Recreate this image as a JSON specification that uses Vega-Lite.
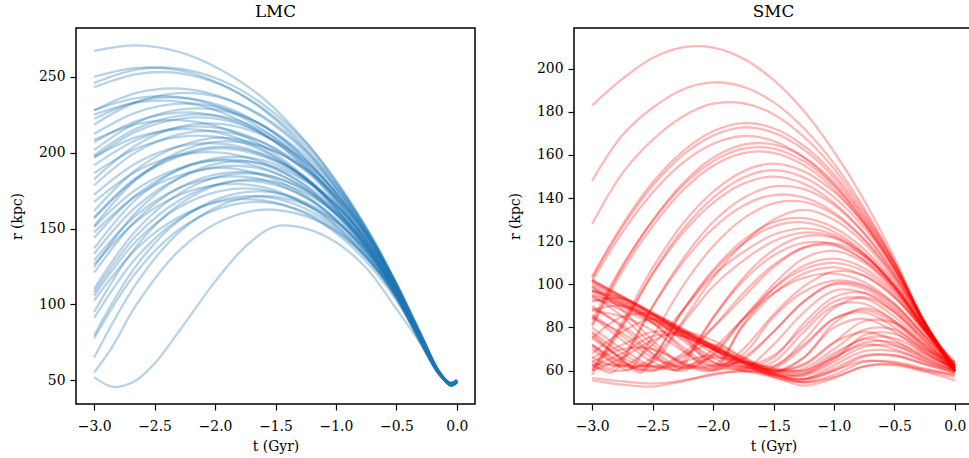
{
"$schema": "https://vega.github.io/schema/vega-lite/v6.json",
"background": "white",
"padding": {"left": 9, "top": 3, "right": 0, "bottom": 0},
"spacing": 99,
"bounds": "flush",
"config": {
"font": "DejaVu Serif",
"view": {"stroke": "#000000", "strokeWidth": 1.5},
"axis": {"grid": false, "domain": false, "labelFont": "DejaVu Serif", "titleFont": "DejaVu Serif", "labelFontSize": 13.9, "titleFontSize": 13.9, "titleFontWeight": "normal", "labelColor": "#000000", "titleColor": "#000000", "tickColor": "#000000", "tickSize": 6, "tickWidth": 1.2},
"axisY": {"titlePadding": 14, "labelPadding": 5},
"axisX": {"titlePadding": 7, "labelPadding": 9},
"title": {"font": "DejaVu Serif", "fontSize": 16.7, "fontWeight": "normal", "color": "#000000", "offset": 7, "anchor": "middle"}
},
"datasets": {
"L": [
{"k":1,"t":-3,"r":267.2},{"k":1,"t":-2.65,"r":270.8},{"k":1,"t":-2.3,"r":266.5},{"k":1,"t":-1.95,"r":254.6},{"k":1,"t":-1.6,"r":235.8},{"k":1,"t":-1.25,"r":207.2},{"k":1,"t":-0.95,"r":175.1},{"k":1,"t":-0.7,"r":142},{"k":1,"t":-0.5,"r":110.6},{"k":1,"t":-0.3,"r":76.3},{"k":1,"t":-0.15,"r":55.1},{"k":1,"t":-0.05,"r":47},{"k":1,"t":0,"r":49},
{"k":2,"t":-3,"r":250.1},{"k":2,"t":-2.65,"r":256},{"k":2,"t":-2.3,"r":254.5},{"k":2,"t":-1.95,"r":245.2},{"k":2,"t":-1.6,"r":228.2},{"k":2,"t":-1.25,"r":202.2},{"k":2,"t":-0.95,"r":171.7},{"k":2,"t":-0.7,"r":140.2},{"k":2,"t":-0.5,"r":110},{"k":2,"t":-0.3,"r":76.2},{"k":2,"t":-0.15,"r":55},{"k":2,"t":-0.05,"r":47.5},{"k":2,"t":0,"r":49.5},
{"k":3,"t":-3,"r":246.1},{"k":3,"t":-2.65,"r":254.9},{"k":3,"t":-2.3,"r":255.5},{"k":3,"t":-1.95,"r":247.8},{"k":3,"t":-1.6,"r":231.8},{"k":3,"t":-1.25,"r":206.8},{"k":3,"t":-0.95,"r":176.2},{"k":3,"t":-0.7,"r":144},{"k":3,"t":-0.5,"r":112.9},{"k":3,"t":-0.3,"r":77.9},{"k":3,"t":-0.15,"r":55.2},{"k":3,"t":-0.05,"r":46.5},{"k":3,"t":0,"r":48.5},
{"k":4,"t":-3,"r":243.2},{"k":4,"t":-2.65,"r":251.9},{"k":4,"t":-2.3,"r":252.6},{"k":4,"t":-1.95,"r":244.9},{"k":4,"t":-1.6,"r":229.2},{"k":4,"t":-1.25,"r":204.5},{"k":4,"t":-0.95,"r":174.3},{"k":4,"t":-0.7,"r":142.6},{"k":4,"t":-0.5,"r":112},{"k":4,"t":-0.3,"r":77.4},{"k":4,"t":-0.15,"r":55.1},{"k":4,"t":-0.05,"r":47},{"k":4,"t":0,"r":49},
{"k":5,"t":-3,"r":227.9},{"k":5,"t":-2.65,"r":239.5},{"k":5,"t":-2.3,"r":242.4},{"k":5,"t":-1.95,"r":236.9},{"k":5,"t":-1.6,"r":223},{"k":5,"t":-1.25,"r":200.1},{"k":5,"t":-0.95,"r":171.7},{"k":5,"t":-0.7,"r":141.5},{"k":5,"t":-0.5,"r":111.7},{"k":5,"t":-0.3,"r":78},{"k":5,"t":-0.15,"r":55},{"k":5,"t":-0.05,"r":48},{"k":5,"t":0,"r":50},
{"k":6,"t":-3,"r":218.6},{"k":6,"t":-2.65,"r":233.4},{"k":6,"t":-2.3,"r":239.4},{"k":6,"t":-1.95,"r":236.3},{"k":6,"t":-1.6,"r":224},{"k":6,"t":-1.25,"r":201.6},{"k":6,"t":-0.95,"r":174},{"k":6,"t":-0.7,"r":143.9},{"k":6,"t":-0.5,"r":113.8},{"k":6,"t":-0.3,"r":79.2},{"k":6,"t":-0.15,"r":55.3},{"k":6,"t":-0.05,"r":47},{"k":6,"t":0,"r":49},
{"k":7,"t":-3,"r":222.4},{"k":7,"t":-2.65,"r":233.6},{"k":7,"t":-2.3,"r":236.4},{"k":7,"t":-1.95,"r":231.1},{"k":7,"t":-1.6,"r":217.6},{"k":7,"t":-1.25,"r":195.4},{"k":7,"t":-0.95,"r":167.8},{"k":7,"t":-0.7,"r":138.6},{"k":7,"t":-0.5,"r":109.7},{"k":7,"t":-0.3,"r":77},{"k":7,"t":-0.15,"r":54.8},{"k":7,"t":-0.05,"r":47.5},{"k":7,"t":0,"r":49.5},
{"k":8,"t":-3,"r":212.4},{"k":8,"t":-2.65,"r":226.7},{"k":8,"t":-2.3,"r":232.4},{"k":8,"t":-1.95,"r":229.5},{"k":8,"t":-1.6,"r":217.6},{"k":8,"t":-1.25,"r":196},{"k":8,"t":-0.95,"r":169.4},{"k":8,"t":-0.7,"r":140.4},{"k":8,"t":-0.5,"r":111.4},{"k":8,"t":-0.3,"r":78.1},{"k":8,"t":-0.15,"r":55},{"k":8,"t":-0.05,"r":46.5},{"k":8,"t":0,"r":48.5},
{"k":9,"t":-3,"r":201.8},{"k":9,"t":-2.65,"r":219.8},{"k":9,"t":-2.3,"r":228.4},{"k":9,"t":-1.95,"r":228},{"k":9,"t":-1.6,"r":217.9},{"k":9,"t":-1.25,"r":197.8},{"k":9,"t":-0.95,"r":171.8},{"k":9,"t":-0.7,"r":142.9},{"k":9,"t":-0.5,"r":113.4},{"k":9,"t":-0.3,"r":79.6},{"k":9,"t":-0.15,"r":55.2},{"k":9,"t":-0.05,"r":47},{"k":9,"t":0,"r":49},
{"k":10,"t":-3,"r":207},{"k":10,"t":-2.65,"r":220.9},{"k":10,"t":-2.3,"r":226.5},{"k":10,"t":-1.95,"r":223.6},{"k":10,"t":-1.6,"r":212.1},{"k":10,"t":-1.25,"r":191.2},{"k":10,"t":-0.95,"r":165.4},{"k":10,"t":-0.7,"r":137.4},{"k":10,"t":-0.5,"r":109.3},{"k":10,"t":-0.3,"r":77.1},{"k":10,"t":-0.15,"r":54.7},{"k":10,"t":-0.05,"r":48},{"k":10,"t":0,"r":50},
{"k":11,"t":-3,"r":196.7},{"k":11,"t":-2.65,"r":214.1},{"k":11,"t":-2.3,"r":222.4},{"k":11,"t":-1.95,"r":222.1},{"k":11,"t":-1.6,"r":212.3},{"k":11,"t":-1.25,"r":192.8},{"k":11,"t":-0.95,"r":167.7},{"k":11,"t":-0.7,"r":139.7},{"k":11,"t":-0.5,"r":111.3},{"k":11,"t":-0.3,"r":78.5},{"k":11,"t":-0.15,"r":55},{"k":11,"t":-0.05,"r":47},{"k":11,"t":0,"r":49},
{"k":12,"t":-3,"r":182.5},{"k":12,"t":-2.65,"r":205.1},{"k":12,"t":-2.3,"r":217.1},{"k":12,"t":-1.95,"r":219},{"k":12,"t":-1.6,"r":211.4},{"k":12,"t":-1.25,"r":194.1},{"k":12,"t":-0.95,"r":169.1},{"k":12,"t":-0.7,"r":141.5},{"k":12,"t":-0.5,"r":113.3},{"k":12,"t":-0.3,"r":79.9},{"k":12,"t":-0.15,"r":55.1},{"k":12,"t":-0.05,"r":47.5},{"k":12,"t":0,"r":49.5},
{"k":13,"t":-3,"r":191.7},{"k":13,"t":-2.65,"r":208.4},{"k":13,"t":-2.3,"r":216.5},{"k":13,"t":-1.95,"r":216.1},{"k":13,"t":-1.6,"r":206.7},{"k":13,"t":-1.25,"r":187.9},{"k":13,"t":-0.95,"r":163.6},{"k":13,"t":-0.7,"r":136.6},{"k":13,"t":-0.5,"r":109.1},{"k":13,"t":-0.3,"r":77.4},{"k":13,"t":-0.15,"r":54.7},{"k":13,"t":-0.05,"r":46.5},{"k":13,"t":0,"r":48.5},
{"k":14,"t":-3,"r":178.5},{"k":14,"t":-2.65,"r":200.6},{"k":14,"t":-2.3,"r":212.1},{"k":14,"t":-1.95,"r":214},{"k":14,"t":-1.6,"r":206.6},{"k":14,"t":-1.25,"r":189.8},{"k":14,"t":-0.95,"r":165.6},{"k":14,"t":-0.7,"r":138.7},{"k":14,"t":-0.5,"r":111.3},{"k":14,"t":-0.3,"r":78.9},{"k":14,"t":-0.15,"r":54.9},{"k":14,"t":-0.05,"r":47},{"k":14,"t":0,"r":49},
{"k":15,"t":-3,"r":186.6},{"k":15,"t":-2.65,"r":202.8},{"k":15,"t":-2.3,"r":210.5},{"k":15,"t":-1.95,"r":210.2},{"k":15,"t":-1.6,"r":201.1},{"k":15,"t":-1.25,"r":183},{"k":15,"t":-0.95,"r":159.5},{"k":15,"t":-0.7,"r":133.5},{"k":15,"t":-0.5,"r":106.9},{"k":15,"t":-0.3,"r":76.4},{"k":15,"t":-0.15,"r":54.4},{"k":15,"t":-0.05,"r":48},{"k":15,"t":0,"r":50},
{"k":16,"t":-3,"r":161.6},{"k":16,"t":-2.65,"r":189},{"k":16,"t":-2.3,"r":204.3},{"k":16,"t":-1.95,"r":210},{"k":16,"t":-1.6,"r":204.3},{"k":16,"t":-1.25,"r":189},{"k":16,"t":-0.95,"r":166.3},{"k":16,"t":-0.7,"r":139.9},{"k":16,"t":-0.5,"r":112.9},{"k":16,"t":-0.3,"r":80.4},{"k":16,"t":-0.15,"r":55.6},{"k":16,"t":-0.05,"r":47},{"k":16,"t":0,"r":49},
{"k":17,"t":-3,"r":172.3},{"k":17,"t":-2.65,"r":193.2},{"k":17,"t":-2.3,"r":204.3},{"k":17,"t":-1.95,"r":206},{"k":17,"t":-1.6,"r":199},{"k":17,"t":-1.25,"r":183},{"k":17,"t":-0.95,"r":160},{"k":17,"t":-0.7,"r":134.4},{"k":17,"t":-0.5,"r":108.3},{"k":17,"t":-0.3,"r":77.4},{"k":17,"t":-0.15,"r":54.5},{"k":17,"t":-0.05,"r":47.5},{"k":17,"t":0,"r":49.5},
{"k":18,"t":-3,"r":157.4},{"k":18,"t":-2.65,"r":183.7},{"k":18,"t":-2.3,"r":198.5},{"k":18,"t":-1.95,"r":204},{"k":18,"t":-1.6,"r":198.5},{"k":18,"t":-1.25,"r":183.7},{"k":18,"t":-0.95,"r":161.9},{"k":18,"t":-0.7,"r":136.5},{"k":18,"t":-0.5,"r":110.4},{"k":18,"t":-0.3,"r":79.2},{"k":18,"t":-0.15,"r":55.3},{"k":18,"t":-0.05,"r":46.5},{"k":18,"t":0,"r":48.5},
{"k":19,"t":-3,"r":167.6},{"k":19,"t":-2.65,"r":187.8},{"k":19,"t":-2.3,"r":198.4},{"k":19,"t":-1.95,"r":200.1},{"k":19,"t":-1.6,"r":193.3},{"k":19,"t":-1.25,"r":177.9},{"k":19,"t":-0.95,"r":155.7},{"k":19,"t":-0.7,"r":131.1},{"k":19,"t":-0.5,"r":106},{"k":19,"t":-0.3,"r":76.3},{"k":19,"t":-0.15,"r":54.2},{"k":19,"t":-0.05,"r":47},{"k":19,"t":0,"r":49},
{"k":20,"t":-3,"r":137},{"k":20,"t":-2.65,"r":169.5},{"k":20,"t":-2.3,"r":188.9},{"k":20,"t":-1.95,"r":196.9},{"k":20,"t":-1.6,"r":195},{"k":20,"t":-1.25,"r":182},{"k":20,"t":-0.95,"r":161.9},{"k":20,"t":-0.7,"r":137},{"k":20,"t":-0.5,"r":111.5},{"k":20,"t":-0.3,"r":80.1},{"k":20,"t":-0.15,"r":55.8},{"k":20,"t":-0.05,"r":48},{"k":20,"t":0,"r":50},
{"k":21,"t":-3,"r":151},{"k":21,"t":-2.65,"r":175.9},{"k":21,"t":-2.3,"r":189.8},{"k":21,"t":-1.95,"r":195},{"k":21,"t":-1.6,"r":189.8},{"k":21,"t":-1.25,"r":175.9},{"k":21,"t":-0.95,"r":155.3},{"k":21,"t":-0.7,"r":131.4},{"k":21,"t":-0.5,"r":106.8},{"k":21,"t":-0.3,"r":77.3},{"k":21,"t":-0.15,"r":54.8},{"k":21,"t":-0.05,"r":47},{"k":21,"t":0,"r":49},
{"k":22,"t":-3,"r":133.4},{"k":22,"t":-2.65,"r":164.6},{"k":22,"t":-2.3,"r":183.3},{"k":22,"t":-1.95,"r":191},{"k":22,"t":-1.6,"r":189.1},{"k":22,"t":-1.25,"r":176.6},{"k":22,"t":-0.95,"r":157.3},{"k":22,"t":-0.7,"r":133.4},{"k":22,"t":-0.5,"r":108.9},{"k":22,"t":-0.3,"r":78.8},{"k":22,"t":-0.15,"r":55.4},{"k":22,"t":-0.05,"r":47.5},{"k":22,"t":0,"r":49.5},
{"k":23,"t":-3,"r":147.5},{"k":23,"t":-2.65,"r":171.6},{"k":23,"t":-2.3,"r":185},{"k":23,"t":-1.95,"r":190},{"k":23,"t":-1.6,"r":185},{"k":23,"t":-1.25,"r":171.6},{"k":23,"t":-0.95,"r":151.7},{"k":23,"t":-0.7,"r":128.5},{"k":23,"t":-0.5,"r":104.8},{"k":23,"t":-0.3,"r":76.3},{"k":23,"t":-0.15,"r":54.6},{"k":23,"t":-0.05,"r":46.5},{"k":23,"t":0,"r":48.5},
{"k":24,"t":-3,"r":110.3},{"k":24,"t":-2.65,"r":149.1},{"k":24,"t":-2.3,"r":172.9},{"k":24,"t":-1.95,"r":184.8},{"k":24,"t":-1.6,"r":185.5},{"k":24,"t":-1.25,"r":175.4},{"k":24,"t":-0.95,"r":157.2},{"k":24,"t":-0.7,"r":134.4},{"k":24,"t":-0.5,"r":110.3},{"k":24,"t":-0.3,"r":80},{"k":24,"t":-0.15,"r":56},{"k":24,"t":-0.05,"r":47},{"k":24,"t":0,"r":49},
{"k":25,"t":-3,"r":129.2},{"k":25,"t":-2.65,"r":158.9},{"k":25,"t":-2.3,"r":176.7},{"k":25,"t":-1.95,"r":184},{"k":25,"t":-1.6,"r":182.2},{"k":25,"t":-1.25,"r":170.4},{"k":25,"t":-0.95,"r":152},{"k":25,"t":-0.7,"r":129.2},{"k":25,"t":-0.5,"r":105.9},{"k":25,"t":-0.3,"r":77.2},{"k":25,"t":-0.15,"r":55},{"k":25,"t":-0.05,"r":48},{"k":25,"t":0,"r":50},
{"k":26,"t":-3,"r":108},{"k":26,"t":-2.65,"r":145.4},{"k":26,"t":-2.3,"r":168.4},{"k":26,"t":-1.95,"r":179.8},{"k":26,"t":-1.6,"r":180.5},{"k":26,"t":-1.25,"r":170.8},{"k":26,"t":-0.95,"r":153.2},{"k":26,"t":-0.7,"r":131.2},{"k":26,"t":-0.5,"r":108},{"k":26,"t":-0.3,"r":78.9},{"k":26,"t":-0.15,"r":55.6},{"k":26,"t":-0.05,"r":47},{"k":26,"t":0,"r":49},
{"k":27,"t":-3,"r":126.3},{"k":27,"t":-2.65,"r":154.9},{"k":27,"t":-2.3,"r":172},{"k":27,"t":-1.95,"r":179.1},{"k":27,"t":-1.6,"r":177.3},{"k":27,"t":-1.25,"r":165.9},{"k":27,"t":-0.95,"r":148.2},{"k":27,"t":-0.7,"r":126.3},{"k":27,"t":-0.5,"r":103.8},{"k":27,"t":-0.3,"r":76.1},{"k":27,"t":-0.15,"r":54.7},{"k":27,"t":-0.05,"r":47.5},{"k":27,"t":0,"r":49.5},
{"k":28,"t":-3,"r":105.8},{"k":28,"t":-2.65,"r":141.8},{"k":28,"t":-2.3,"r":163.9},{"k":28,"t":-1.95,"r":174.9},{"k":28,"t":-1.6,"r":175.6},{"k":28,"t":-1.25,"r":166.2},{"k":28,"t":-0.95,"r":149.3},{"k":28,"t":-0.7,"r":128.1},{"k":28,"t":-0.5,"r":105.8},{"k":28,"t":-0.3,"r":77.7},{"k":28,"t":-0.15,"r":55.3},{"k":28,"t":-0.05,"r":46.5},{"k":28,"t":0,"r":48.5},
{"k":29,"t":-3,"r":79.5},{"k":29,"t":-2.65,"r":125.7},{"k":29,"t":-2.3,"r":155.2},{"k":29,"t":-1.95,"r":170.4},{"k":29,"t":-1.6,"r":174.5},{"k":29,"t":-1.25,"r":167.3},{"k":29,"t":-0.95,"r":151.6},{"k":29,"t":-0.7,"r":130.8},{"k":29,"t":-0.5,"r":108.2},{"k":29,"t":-0.3,"r":79.5},{"k":29,"t":-0.15,"r":56},{"k":29,"t":-0.05,"r":47},{"k":29,"t":0,"r":49},
{"k":30,"t":-3,"r":64.9},{"k":30,"t":-2.65,"r":113.9},{"k":30,"t":-2.3,"r":147.4},{"k":30,"t":-1.95,"r":165.5},{"k":30,"t":-1.6,"r":171.5},{"k":30,"t":-1.25,"r":165.8},{"k":30,"t":-0.95,"r":151.3},{"k":30,"t":-0.7,"r":130.9},{"k":30,"t":-0.5,"r":108.8},{"k":30,"t":-0.3,"r":80.1},{"k":30,"t":-0.15,"r":56.3},{"k":30,"t":-0.05,"r":48},{"k":30,"t":0,"r":50},
{"k":31,"t":-3,"r":102.6},{"k":31,"t":-2.65,"r":136.7},{"k":31,"t":-2.3,"r":157.6},{"k":31,"t":-1.95,"r":168},{"k":31,"t":-1.6,"r":168.6},{"k":31,"t":-1.25,"r":159.8},{"k":31,"t":-0.95,"r":143.8},{"k":31,"t":-0.7,"r":123.8},{"k":31,"t":-0.5,"r":102.6},{"k":31,"t":-0.3,"r":76},{"k":31,"t":-0.15,"r":54.9},{"k":31,"t":-0.05,"r":47},{"k":31,"t":0,"r":49},
{"k":32,"t":-3,"r":77.7},{"k":32,"t":-2.65,"r":121.4},{"k":32,"t":-2.3,"r":149.2},{"k":32,"t":-1.95,"r":163.6},{"k":32,"t":-1.6,"r":167.5},{"k":32,"t":-1.25,"r":160.7},{"k":32,"t":-0.95,"r":145.9},{"k":32,"t":-0.7,"r":126.3},{"k":32,"t":-0.5,"r":104.8},{"k":32,"t":-0.3,"r":77.7},{"k":32,"t":-0.15,"r":55.5},{"k":32,"t":-0.05,"r":47.5},{"k":32,"t":0,"r":49.5},
{"k":33,"t":-3,"r":55},{"k":33,"t":-2.85,"r":72},{"k":33,"t":-2.65,"r":99.8},{"k":33,"t":-2.3,"r":135.3},{"k":33,"t":-1.95,"r":155},{"k":33,"t":-1.6,"r":162.5},{"k":33,"t":-1.25,"r":158.2},{"k":33,"t":-0.95,"r":145.6},{"k":33,"t":-0.7,"r":126.6},{"k":33,"t":-0.5,"r":106.2},{"k":33,"t":-0.3,"r":78.9},{"k":33,"t":-0.15,"r":56},{"k":33,"t":-0.05,"r":47},{"k":33,"t":0,"r":49},
{"k":34,"t":-3,"r":52},{"k":34,"t":-2.9,"r":47},{"k":34,"t":-2.83,"r":45.5},{"k":34,"t":-2.75,"r":46.5},{"k":34,"t":-2.65,"r":50},{"k":34,"t":-2.5,"r":61},{"k":34,"t":-2.3,"r":82},{"k":34,"t":-2,"r":115},{"k":34,"t":-1.75,"r":138},{"k":34,"t":-1.5,"r":151.5},{"k":34,"t":-1.25,"r":150},{"k":34,"t":-1,"r":141},{"k":34,"t":-0.75,"r":124},{"k":34,"t":-0.5,"r":97},{"k":34,"t":-0.3,"r":74},{"k":34,"t":-0.15,"r":55},{"k":34,"t":-0.05,"r":47},{"k":34,"t":0,"r":49},
{"k":35,"t":-3,"r":208.5},{"k":35,"t":-2.65,"r":218.9},{"k":35,"t":-2.3,"r":221.5},{"k":35,"t":-1.95,"r":216.6},{"k":35,"t":-1.6,"r":204.2},{"k":35,"t":-1.25,"r":183.7},{"k":35,"t":-0.95,"r":158.3},{"k":35,"t":-0.7,"r":131.4},{"k":35,"t":-0.5,"r":104.8},{"k":35,"t":-0.3,"r":74.7},{"k":35,"t":-0.15,"r":54.2},{"k":35,"t":-0.05,"r":47},{"k":35,"t":0,"r":49},
{"k":36,"t":-3,"r":225.2},{"k":36,"t":-2.65,"r":233.1},{"k":36,"t":-2.3,"r":233.7},{"k":36,"t":-1.95,"r":226.7},{"k":36,"t":-1.6,"r":212.4},{"k":36,"t":-1.25,"r":190.1},{"k":36,"t":-0.95,"r":162.6},{"k":36,"t":-0.7,"r":133.9},{"k":36,"t":-0.5,"r":106},{"k":36,"t":-0.3,"r":74.6},{"k":36,"t":-0.15,"r":54.3},{"k":36,"t":-0.05,"r":47.5},{"k":36,"t":0,"r":49.5},
{"k":37,"t":-3,"r":95},{"k":37,"t":-2.65,"r":138.4},{"k":37,"t":-2.3,"r":165.6},{"k":37,"t":-1.95,"r":179.5},{"k":37,"t":-1.6,"r":182},{"k":37,"t":-1.25,"r":173.3},{"k":37,"t":-0.95,"r":156.1},{"k":37,"t":-0.7,"r":134},{"k":37,"t":-0.5,"r":110.2},{"k":37,"t":-0.3,"r":80.3},{"k":37,"t":-0.15,"r":56.1},{"k":37,"t":-0.05,"r":48},{"k":37,"t":0,"r":50},
{"k":38,"t":-3,"r":91.1},{"k":38,"t":-2.65,"r":131},{"k":38,"t":-2.3,"r":156},{"k":38,"t":-1.95,"r":168.8},{"k":38,"t":-1.6,"r":171.1},{"k":38,"t":-1.25,"r":163.1},{"k":38,"t":-0.95,"r":147.3},{"k":38,"t":-0.7,"r":127},{"k":38,"t":-0.5,"r":105.1},{"k":38,"t":-0.3,"r":77.6},{"k":38,"t":-0.15,"r":55.4},{"k":38,"t":-0.05,"r":47},{"k":38,"t":0,"r":49},
{"k":39,"t":-3,"r":120.9},{"k":39,"t":-2.65,"r":155.6},{"k":39,"t":-2.3,"r":176.7},{"k":39,"t":-1.95,"r":186.4},{"k":39,"t":-1.6,"r":185.9},{"k":39,"t":-1.25,"r":174.7},{"k":39,"t":-0.95,"r":156.1},{"k":39,"t":-0.7,"r":133},{"k":39,"t":-0.5,"r":109},{"k":39,"t":-0.3,"r":79.1},{"k":39,"t":-0.15,"r":55.6},{"k":39,"t":-0.05,"r":46.5},{"k":39,"t":0,"r":48.5},
{"k":40,"t":-3,"r":124.6},{"k":40,"t":-2.65,"r":161},{"k":40,"t":-2.3,"r":183.2},{"k":40,"t":-1.95,"r":193.4},{"k":40,"t":-1.6,"r":192.8},{"k":40,"t":-1.25,"r":181.1},{"k":40,"t":-0.95,"r":161.6},{"k":40,"t":-0.7,"r":137.3},{"k":40,"t":-0.5,"r":112.1},{"k":40,"t":-0.3,"r":80.7},{"k":40,"t":-0.15,"r":56},{"k":40,"t":-0.05,"r":47},{"k":40,"t":0,"r":49},
{"k":41,"t":-3,"r":143.9},{"k":41,"t":-2.65,"r":172.3},{"k":41,"t":-2.3,"r":189},{"k":41,"t":-1.95,"r":195.6},{"k":41,"t":-1.6,"r":192},{"k":41,"t":-1.25,"r":178.6},{"k":41,"t":-0.95,"r":158.3},{"k":41,"t":-0.7,"r":133.9},{"k":41,"t":-0.5,"r":109},{"k":41,"t":-0.3,"r":78.6},{"k":41,"t":-0.15,"r":55.3},{"k":41,"t":-0.05,"r":47.5},{"k":41,"t":0,"r":49.5},
{"k":42,"t":-3,"r":151.7},{"k":42,"t":-2.65,"r":182.4},{"k":42,"t":-2.3,"r":200.4},{"k":42,"t":-1.95,"r":207.5},{"k":42,"t":-1.6,"r":203.7},{"k":42,"t":-1.25,"r":189.2},{"k":42,"t":-0.95,"r":167.3},{"k":42,"t":-0.7,"r":140.9},{"k":42,"t":-0.5,"r":114},{"k":42,"t":-0.3,"r":81.1},{"k":42,"t":-0.15,"r":56},{"k":42,"t":-0.05,"r":48},{"k":42,"t":0,"r":50},
{"k":43,"t":-3,"r":198.4},{"k":43,"t":-2.65,"r":216},{"k":43,"t":-2.3,"r":224.4},{"k":43,"t":-1.95,"r":224},{"k":43,"t":-1.6,"r":214.2},{"k":43,"t":-1.25,"r":194.5},{"k":43,"t":-0.95,"r":169.1},{"k":43,"t":-0.7,"r":140.8},{"k":43,"t":-0.5,"r":112},{"k":43,"t":-0.3,"r":78.9},{"k":43,"t":-0.15,"r":55.1},{"k":43,"t":-0.05,"r":47},{"k":43,"t":0,"r":49},
{"k":44,"t":-3,"r":197.2},{"k":44,"t":-2.65,"r":210.3},{"k":44,"t":-2.3,"r":215.5},{"k":44,"t":-1.95,"r":212.8},{"k":44,"t":-1.6,"r":202},{"k":44,"t":-1.25,"r":182.4},{"k":44,"t":-0.95,"r":158.2},{"k":44,"t":-0.7,"r":131.8},{"k":44,"t":-0.5,"r":105.5},{"k":44,"t":-0.3,"r":75.2},{"k":44,"t":-0.15,"r":54.3},{"k":44,"t":-0.05,"r":47.5},{"k":44,"t":0,"r":49.5},
{"k":45,"t":-3,"r":156.7},{"k":45,"t":-2.65,"r":182.9},{"k":45,"t":-2.3,"r":197.5},{"k":45,"t":-1.95,"r":203},{"k":45,"t":-1.6,"r":197.5},{"k":45,"t":-1.25,"r":182.9},{"k":45,"t":-0.95,"r":161.2},{"k":45,"t":-0.7,"r":135.9},{"k":45,"t":-0.5,"r":110},{"k":45,"t":-0.3,"r":79},{"k":45,"t":-0.15,"r":55.3},{"k":45,"t":-0.05,"r":46.5},{"k":45,"t":0,"r":48.5},
{"k":46,"t":-3,"r":228.1},{"k":46,"t":-2.65,"r":236.1},{"k":46,"t":-2.3,"r":236.7},{"k":46,"t":-1.95,"r":229.6},{"k":46,"t":-1.6,"r":215.1},{"k":46,"t":-1.25,"r":192.4},{"k":46,"t":-0.95,"r":164.5},{"k":46,"t":-0.7,"r":135.2},{"k":46,"t":-0.5,"r":107},{"k":46,"t":-0.3,"r":75.1},{"k":46,"t":-0.15,"r":54.4},{"k":46,"t":-0.05,"r":47},{"k":46,"t":0,"r":49}
],
"S": [
{"k":1,"t":-3,"r":183},{"k":1,"t":-2.75,"r":195.3},{"k":1,"t":-2.5,"r":205},{"k":1,"t":-2.25,"r":209.9},{"k":1,"t":-2,"r":209.8},{"k":1,"t":-1.75,"r":204.7},{"k":1,"t":-1.5,"r":194.8},{"k":1,"t":-1.25,"r":180.5},{"k":1,"t":-1,"r":161.5},{"k":1,"t":-0.75,"r":139},{"k":1,"t":-0.5,"r":112.2},{"k":1,"t":-0.25,"r":82},{"k":1,"t":0,"r":60},
{"k":2,"t":-3,"r":148},{"k":2,"t":-2.75,"r":169.1},{"k":2,"t":-2.5,"r":181.9},{"k":2,"t":-2.25,"r":190.4},{"k":2,"t":-2,"r":193.7},{"k":2,"t":-1.75,"r":191.6},{"k":2,"t":-1.5,"r":184.5},{"k":2,"t":-1.25,"r":172.4},{"k":2,"t":-1,"r":156.1},{"k":2,"t":-0.75,"r":135.3},{"k":2,"t":-0.5,"r":110.5},{"k":2,"t":-0.25,"r":82},{"k":2,"t":0,"r":60.5},
{"k":3,"t":-3,"r":128},{"k":3,"t":-2.75,"r":151.5},{"k":3,"t":-2.5,"r":167},{"k":3,"t":-2.25,"r":177.9},{"k":3,"t":-2,"r":183.8},{"k":3,"t":-1.75,"r":184},{"k":3,"t":-1.5,"r":178.9},{"k":3,"t":-1.25,"r":168.5},{"k":3,"t":-1,"r":153.6},{"k":3,"t":-0.75,"r":133.9},{"k":3,"t":-0.5,"r":110.1},{"k":3,"t":-0.25,"r":82.1},{"k":3,"t":0,"r":59.5},
{"k":4,"t":-3,"r":103.7},{"k":4,"t":-2.75,"r":127.6},{"k":4,"t":-2.5,"r":147.2},{"k":4,"t":-2.25,"r":161.7},{"k":4,"t":-2,"r":171},{"k":4,"t":-1.75,"r":174.8},{"k":4,"t":-1.5,"r":172.4},{"k":4,"t":-1.25,"r":164.3},{"k":4,"t":-1,"r":151.1},{"k":4,"t":-0.75,"r":132.6},{"k":4,"t":-0.5,"r":110},{"k":4,"t":-0.25,"r":82.5},{"k":4,"t":0,"r":61},
{"k":5,"t":-3,"r":103},{"k":5,"t":-2.75,"r":126.4},{"k":5,"t":-2.5,"r":145.7},{"k":5,"t":-2.25,"r":159.9},{"k":5,"t":-2,"r":169},{"k":5,"t":-1.75,"r":172.8},{"k":5,"t":-1.5,"r":170.4},{"k":5,"t":-1.25,"r":162.5},{"k":5,"t":-1,"r":149.5},{"k":5,"t":-0.75,"r":131.3},{"k":5,"t":-0.5,"r":109.2},{"k":5,"t":-0.25,"r":82.1},{"k":5,"t":0,"r":60},
{"k":6,"t":-3,"r":101.4},{"k":6,"t":-2.75,"r":124.1},{"k":6,"t":-2.5,"r":142.6},{"k":6,"t":-2.25,"r":156.4},{"k":6,"t":-2,"r":165.2},{"k":6,"t":-1.75,"r":168.8},{"k":6,"t":-1.5,"r":166.5},{"k":6,"t":-1.25,"r":158.9},{"k":6,"t":-1,"r":146.3},{"k":6,"t":-0.75,"r":128.8},{"k":6,"t":-0.5,"r":107.4},{"k":6,"t":-0.25,"r":81.4},{"k":6,"t":0,"r":60},
{"k":7,"t":-3,"r":81.3},{"k":7,"t":-2.75,"r":107.9},{"k":7,"t":-2.5,"r":129.6},{"k":7,"t":-2.25,"r":146.9},{"k":7,"t":-2,"r":158.7},{"k":7,"t":-1.75,"r":164.8},{"k":7,"t":-1.5,"r":164.9},{"k":7,"t":-1.25,"r":159},{"k":7,"t":-1,"r":147.5},{"k":7,"t":-0.75,"r":130.5},{"k":7,"t":-0.5,"r":109},{"k":7,"t":-0.25,"r":82.5},{"k":7,"t":0,"r":60},
{"k":8,"t":-3,"r":83.3},{"k":8,"t":-2.75,"r":108.7},{"k":8,"t":-2.5,"r":129.4},{"k":8,"t":-2.25,"r":145.8},{"k":8,"t":-2,"r":157},{"k":8,"t":-1.75,"r":162.9},{"k":8,"t":-1.5,"r":163},{"k":8,"t":-1.25,"r":157.1},{"k":8,"t":-1,"r":145.8},{"k":8,"t":-0.75,"r":129.2},{"k":8,"t":-0.5,"r":108},{"k":8,"t":-0.25,"r":82},{"k":8,"t":0,"r":60},
{"k":9,"t":-3,"r":80.5},{"k":9,"t":-2.75,"r":106.1},{"k":9,"t":-2.5,"r":127},{"k":9,"t":-2.25,"r":143.6},{"k":9,"t":-2,"r":155},{"k":9,"t":-1.75,"r":160.9},{"k":9,"t":-1.5,"r":161},{"k":9,"t":-1.25,"r":155.3},{"k":9,"t":-1,"r":144.2},{"k":9,"t":-0.75,"r":127.8},{"k":9,"t":-0.5,"r":107.1},{"k":9,"t":-0.25,"r":81.6},{"k":9,"t":0,"r":60},
{"k":10,"t":-3,"r":60},{"k":10,"t":-2.75,"r":82.5},{"k":10,"t":-2.5,"r":107.6},{"k":10,"t":-2.25,"r":128.1},{"k":10,"t":-2,"r":142.9},{"k":10,"t":-1.75,"r":152.4},{"k":10,"t":-1.5,"r":156},{"k":10,"t":-1.25,"r":152.4},{"k":10,"t":-1,"r":142.9},{"k":10,"t":-0.75,"r":128.1},{"k":10,"t":-0.5,"r":107.6},{"k":10,"t":-0.25,"r":82.5},{"k":10,"t":0,"r":60},
{"k":11,"t":-3,"r":58},{"k":11,"t":-2.75,"r":80.2},{"k":11,"t":-2.5,"r":105.1},{"k":11,"t":-2.25,"r":125.4},{"k":11,"t":-2,"r":140.1},{"k":11,"t":-1.75,"r":149.5},{"k":11,"t":-1.5,"r":153},{"k":11,"t":-1.25,"r":149.6},{"k":11,"t":-1,"r":140.5},{"k":11,"t":-0.75,"r":126.2},{"k":11,"t":-0.5,"r":106.6},{"k":11,"t":-0.25,"r":82.5},{"k":11,"t":0,"r":61},
{"k":12,"t":-3,"r":60},{"k":12,"t":-2.75,"r":81.1},{"k":12,"t":-2.5,"r":104.6},{"k":12,"t":-2.25,"r":123.8},{"k":12,"t":-2,"r":137.8},{"k":12,"t":-1.75,"r":146.7},{"k":12,"t":-1.5,"r":150},{"k":12,"t":-1.25,"r":146.7},{"k":12,"t":-1,"r":137.8},{"k":12,"t":-0.75,"r":123.8},{"k":12,"t":-0.5,"r":104.6},{"k":12,"t":-0.25,"r":81.1},{"k":12,"t":0,"r":60},
{"k":13,"t":-3,"r":63},{"k":13,"t":-2.84,"r":59},{"k":13,"t":-2.75,"r":64.1},{"k":13,"t":-2.5,"r":89.7},{"k":13,"t":-2.25,"r":111.7},{"k":13,"t":-2,"r":128.9},{"k":13,"t":-1.75,"r":140.1},{"k":13,"t":-1.5,"r":145.4},{"k":13,"t":-1.25,"r":144.2},{"k":13,"t":-1,"r":136.8},{"k":13,"t":-0.75,"r":123.5},{"k":13,"t":-0.5,"r":105},{"k":13,"t":-0.25,"r":81.4},{"k":13,"t":0,"r":60},
{"k":14,"t":-3,"r":64.5},{"k":14,"t":-2.84,"r":61},{"k":14,"t":-2.75,"r":65.8},{"k":14,"t":-2.5,"r":89.6},{"k":14,"t":-2.25,"r":110.1},{"k":14,"t":-2,"r":126},{"k":14,"t":-1.75,"r":136.5},{"k":14,"t":-1.5,"r":141.4},{"k":14,"t":-1.25,"r":140.3},{"k":14,"t":-1,"r":133.4},{"k":14,"t":-0.75,"r":121},{"k":14,"t":-0.5,"r":103.8},{"k":14,"t":-0.25,"r":81.9},{"k":14,"t":0,"r":62},
{"k":15,"t":-3,"r":71.4},{"k":15,"t":-2.75,"r":61},{"k":15,"t":-2.7,"r":60},{"k":15,"t":-2.5,"r":75.9},{"k":15,"t":-2.25,"r":99.2},{"k":15,"t":-2,"r":117.6},{"k":15,"t":-1.75,"r":130.5},{"k":15,"t":-1.5,"r":137.6},{"k":15,"t":-1.25,"r":138.2},{"k":15,"t":-1,"r":132.4},{"k":15,"t":-0.75,"r":120.6},{"k":15,"t":-0.5,"r":103.2},{"k":15,"t":-0.25,"r":80.8},{"k":15,"t":0,"r":60},
{"k":16,"t":-3,"r":77.4},{"k":16,"t":-2.75,"r":64.7},{"k":16,"t":-2.6,"r":59},{"k":16,"t":-2.5,"r":64.8},{"k":16,"t":-2.25,"r":87.9},{"k":16,"t":-2,"r":106.7},{"k":16,"t":-1.75,"r":120.5},{"k":16,"t":-1.5,"r":128.8},{"k":16,"t":-1.25,"r":130.7},{"k":16,"t":-1,"r":126.3},{"k":16,"t":-0.75,"r":116.2},{"k":16,"t":-0.5,"r":100.7},{"k":16,"t":-0.25,"r":80.3},{"k":16,"t":0,"r":61},
{"k":17,"t":-3,"r":76.1},{"k":17,"t":-2.75,"r":65},{"k":17,"t":-2.6,"r":60},{"k":17,"t":-2.5,"r":65.6},{"k":17,"t":-2.25,"r":87.7},{"k":17,"t":-2,"r":105.7},{"k":17,"t":-1.75,"r":118.9},{"k":17,"t":-1.5,"r":126.9},{"k":17,"t":-1.25,"r":128.7},{"k":17,"t":-1,"r":124.4},{"k":17,"t":-0.75,"r":114.4},{"k":17,"t":-0.5,"r":99.1},{"k":17,"t":-0.25,"r":79},{"k":17,"t":0,"r":60},
{"k":18,"t":-3,"r":84.5},{"k":18,"t":-2.75,"r":77.3},{"k":18,"t":-2.5,"r":67.4},{"k":18,"t":-2.3,"r":60},{"k":18,"t":-2.25,"r":62.1},{"k":18,"t":-2,"r":84.4},{"k":18,"t":-1.75,"r":103},{"k":18,"t":-1.5,"r":115.9},{"k":18,"t":-1.25,"r":122.2},{"k":18,"t":-1,"r":121.6},{"k":18,"t":-0.75,"r":113.7},{"k":18,"t":-0.5,"r":99.7},{"k":18,"t":-0.25,"r":80},{"k":18,"t":0,"r":60},
{"k":19,"t":-3,"r":89},{"k":19,"t":-2.75,"r":81},{"k":19,"t":-2.5,"r":70.1},{"k":19,"t":-2.3,"r":62},{"k":19,"t":-2.25,"r":64},{"k":19,"t":-2,"r":84.5},{"k":19,"t":-1.75,"r":101.6},{"k":19,"t":-1.5,"r":113.4},{"k":19,"t":-1.25,"r":119.2},{"k":19,"t":-1,"r":118.6},{"k":19,"t":-0.75,"r":111.3},{"k":19,"t":-0.5,"r":98.2},{"k":19,"t":-0.25,"r":79.7},{"k":19,"t":0,"r":63},
{"k":20,"t":-3,"r":94.7},{"k":20,"t":-2.75,"r":90.9},{"k":20,"t":-2.5,"r":82.4},{"k":20,"t":-2.25,"r":69.8},{"k":20,"t":-2,"r":60.6},{"k":20,"t":-1.75,"r":81.5},{"k":20,"t":-1.5,"r":98.2},{"k":20,"t":-1.25,"r":108.6},{"k":20,"t":-1,"r":111.9},{"k":20,"t":-0.75,"r":107.5},{"k":20,"t":-0.5,"r":96.2},{"k":20,"t":-0.25,"r":78.9},{"k":20,"t":0,"r":60},
{"k":21,"t":-3,"r":87.8},{"k":21,"t":-2.75,"r":85},{"k":21,"t":-2.5,"r":78.6},{"k":21,"t":-2.25,"r":69.1},{"k":21,"t":-2,"r":62.4},{"k":21,"t":-1.75,"r":80.9},{"k":21,"t":-1.5,"r":95.7},{"k":21,"t":-1.25,"r":105},{"k":21,"t":-1,"r":107.9},{"k":21,"t":-0.75,"r":104},{"k":21,"t":-0.5,"r":94.1},{"k":21,"t":-0.25,"r":78.7},{"k":21,"t":0,"r":62},
{"k":22,"t":-3,"r":97},{"k":22,"t":-2.75,"r":93.5},{"k":22,"t":-2.5,"r":86},{"k":22,"t":-2.25,"r":76},{"k":22,"t":-2,"r":62.9},{"k":22,"t":-1.75,"r":67.6},{"k":22,"t":-1.5,"r":85},{"k":22,"t":-1.25,"r":96.6},{"k":22,"t":-1,"r":101.7},{"k":22,"t":-0.75,"r":99.6},{"k":22,"t":-0.5,"r":90.9},{"k":22,"t":-0.25,"r":76.4},{"k":22,"t":0,"r":60},
{"k":23,"t":-3,"r":102},{"k":23,"t":-2.75,"r":94.3},{"k":23,"t":-2.5,"r":86.7},{"k":23,"t":-2.25,"r":79},{"k":23,"t":-2,"r":71.3},{"k":23,"t":-1.75,"r":63.6},{"k":23,"t":-1.5,"r":57},{"k":23,"t":-1.25,"r":55},{"k":23,"t":-1,"r":60},{"k":23,"t":-0.75,"r":64.5},{"k":23,"t":-0.5,"r":63.5},{"k":23,"t":-0.25,"r":60.5},{"k":23,"t":0,"r":58},
{"k":24,"t":-3,"r":100},{"k":24,"t":-2.75,"r":93},{"k":24,"t":-2.5,"r":85.5},{"k":24,"t":-2.25,"r":78},{"k":24,"t":-2,"r":71},{"k":24,"t":-1.75,"r":64},{"k":24,"t":-1.5,"r":58.5},{"k":24,"t":-1.25,"r":56},{"k":24,"t":-1,"r":61},{"k":24,"t":-0.75,"r":67},{"k":24,"t":-0.5,"r":67},{"k":24,"t":-0.25,"r":63},{"k":24,"t":0,"r":59},
{"k":25,"t":-3,"r":98},{"k":25,"t":-2.75,"r":91},{"k":25,"t":-2.5,"r":84},{"k":25,"t":-2.25,"r":77.5},{"k":25,"t":-2,"r":70.5},{"k":25,"t":-1.75,"r":64},{"k":25,"t":-1.5,"r":59},{"k":25,"t":-1.25,"r":57.5},{"k":25,"t":-1,"r":64},{"k":25,"t":-0.75,"r":71},{"k":25,"t":-0.5,"r":71.5},{"k":25,"t":-0.25,"r":66},{"k":25,"t":0,"r":60},
{"k":26,"t":-3,"r":101},{"k":26,"t":-2.75,"r":93.5},{"k":26,"t":-2.5,"r":86},{"k":26,"t":-2.25,"r":78.5},{"k":26,"t":-2,"r":71},{"k":26,"t":-1.75,"r":64},{"k":26,"t":-1.5,"r":59.5},{"k":26,"t":-1.25,"r":59},{"k":26,"t":-1,"r":67},{"k":26,"t":-0.75,"r":75},{"k":26,"t":-0.5,"r":75},{"k":26,"t":-0.25,"r":68},{"k":26,"t":0,"r":61},
{"k":27,"t":-3,"r":96},{"k":27,"t":-2.75,"r":89.5},{"k":27,"t":-2.5,"r":83},{"k":27,"t":-2.25,"r":76.5},{"k":27,"t":-2,"r":70},{"k":27,"t":-1.75,"r":64.5},{"k":27,"t":-1.5,"r":60},{"k":27,"t":-1.25,"r":61},{"k":27,"t":-1,"r":70},{"k":27,"t":-0.75,"r":79},{"k":27,"t":-0.5,"r":79},{"k":27,"t":-0.25,"r":70},{"k":27,"t":0,"r":64},
{"k":28,"t":-3,"r":99},{"k":28,"t":-2.75,"r":92},{"k":28,"t":-2.5,"r":85},{"k":28,"t":-2.25,"r":78},{"k":28,"t":-2,"r":71.5},{"k":28,"t":-1.75,"r":65},{"k":28,"t":-1.5,"r":60.5},{"k":28,"t":-1.25,"r":62.5},{"k":28,"t":-1,"r":73},{"k":28,"t":-0.75,"r":83},{"k":28,"t":-0.5,"r":82},{"k":28,"t":-0.25,"r":72},{"k":28,"t":0,"r":62},
{"k":29,"t":-3,"r":55.5},{"k":29,"t":-2.75,"r":53.5},{"k":29,"t":-2.5,"r":52.6},{"k":29,"t":-2.25,"r":55},{"k":29,"t":-2,"r":58.5},{"k":29,"t":-1.75,"r":59.5},{"k":29,"t":-1.5,"r":57},{"k":29,"t":-1.25,"r":53},{"k":29,"t":-1,"r":56.5},{"k":29,"t":-0.75,"r":62},{"k":29,"t":-0.5,"r":62.5},{"k":29,"t":-0.25,"r":59.5},{"k":29,"t":0,"r":55.5},
{"k":30,"t":-3,"r":56.5},{"k":30,"t":-2.75,"r":55},{"k":30,"t":-2.5,"r":54},{"k":30,"t":-2.25,"r":55.5},{"k":30,"t":-2,"r":58},{"k":30,"t":-1.75,"r":60},{"k":30,"t":-1.5,"r":58.5},{"k":30,"t":-1.25,"r":54.5},{"k":30,"t":-1,"r":58},{"k":30,"t":-0.75,"r":64},{"k":30,"t":-0.5,"r":64},{"k":30,"t":-0.25,"r":61},{"k":30,"t":0,"r":58},
{"k":31,"t":-3,"r":63},{"k":31,"t":-2.75,"r":62.5},{"k":31,"t":-2.5,"r":62},{"k":31,"t":-2.25,"r":61.5},{"k":31,"t":-2,"r":61},{"k":31,"t":-1.75,"r":60},{"k":31,"t":-1.5,"r":58},{"k":31,"t":-1.25,"r":56},{"k":31,"t":-1,"r":60},{"k":31,"t":-0.75,"r":66.5},{"k":31,"t":-0.5,"r":67},{"k":31,"t":-0.25,"r":63},{"k":31,"t":0,"r":59},
{"k":32,"t":-3,"r":92},{"k":32,"t":-2.75,"r":93.5},{"k":32,"t":-2.5,"r":86},{"k":32,"t":-2.25,"r":77},{"k":32,"t":-2,"r":64},{"k":32,"t":-1.75,"r":61},{"k":32,"t":-1.5,"r":72},{"k":32,"t":-1.25,"r":87},{"k":32,"t":-1,"r":97},{"k":32,"t":-0.75,"r":96},{"k":32,"t":-0.5,"r":87},{"k":32,"t":-0.25,"r":74},{"k":32,"t":0,"r":60},
{"k":33,"t":-3,"r":75},{"k":33,"t":-2.75,"r":85},{"k":33,"t":-2.5,"r":86},{"k":33,"t":-2.25,"r":78},{"k":33,"t":-2,"r":70},{"k":33,"t":-1.75,"r":61},{"k":33,"t":-1.5,"r":64},{"k":33,"t":-1.25,"r":78},{"k":33,"t":-1,"r":90},{"k":33,"t":-0.75,"r":91},{"k":33,"t":-0.5,"r":83},{"k":33,"t":-0.25,"r":71},{"k":33,"t":0,"r":60},
{"k":34,"t":-3,"r":68},{"k":34,"t":-2.75,"r":78},{"k":34,"t":-2.5,"r":84},{"k":34,"t":-2.25,"r":78},{"k":34,"t":-2,"r":70},{"k":34,"t":-1.75,"r":62},{"k":34,"t":-1.5,"r":61},{"k":34,"t":-1.25,"r":71},{"k":34,"t":-1,"r":84},{"k":34,"t":-0.75,"r":87},{"k":34,"t":-0.5,"r":80},{"k":34,"t":-0.25,"r":69},{"k":34,"t":0,"r":61},
{"k":35,"t":-3,"r":62},{"k":35,"t":-2.75,"r":68},{"k":35,"t":-2.5,"r":76},{"k":35,"t":-2.25,"r":76},{"k":35,"t":-2,"r":70},{"k":35,"t":-1.75,"r":63},{"k":35,"t":-1.5,"r":59},{"k":35,"t":-1.25,"r":66},{"k":35,"t":-1,"r":80},{"k":35,"t":-0.75,"r":84},{"k":35,"t":-0.5,"r":78},{"k":35,"t":-0.25,"r":68},{"k":35,"t":0,"r":61},
{"k":36,"t":-3,"r":86},{"k":36,"t":-2.75,"r":76},{"k":36,"t":-2.5,"r":66},{"k":36,"t":-2.25,"r":62},{"k":36,"t":-2,"r":66},{"k":36,"t":-1.75,"r":64},{"k":36,"t":-1.5,"r":60},{"k":36,"t":-1.25,"r":63},{"k":36,"t":-1,"r":73},{"k":36,"t":-0.75,"r":78},{"k":36,"t":-0.5,"r":74},{"k":36,"t":-0.25,"r":66},{"k":36,"t":0,"r":60},
{"k":37,"t":-3,"r":95},{"k":37,"t":-2.75,"r":85},{"k":37,"t":-2.5,"r":72},{"k":37,"t":-2.25,"r":63},{"k":37,"t":-2,"r":62},{"k":37,"t":-1.75,"r":64},{"k":37,"t":-1.5,"r":61},{"k":37,"t":-1.25,"r":60},{"k":37,"t":-1,"r":68},{"k":37,"t":-0.75,"r":74.5},{"k":37,"t":-0.5,"r":72},{"k":37,"t":-0.25,"r":65},{"k":37,"t":0,"r":60},
{"k":38,"t":-3,"r":72},{"k":38,"t":-2.75,"r":64},{"k":38,"t":-2.5,"r":60},{"k":38,"t":-2.25,"r":64},{"k":38,"t":-2,"r":67},{"k":38,"t":-1.75,"r":62},{"k":38,"t":-1.5,"r":58},{"k":38,"t":-1.25,"r":58},{"k":38,"t":-1,"r":66},{"k":38,"t":-0.75,"r":72},{"k":38,"t":-0.5,"r":70},{"k":38,"t":-0.25,"r":64},{"k":38,"t":0,"r":60},
{"k":39,"t":-3,"r":80},{"k":39,"t":-2.75,"r":70},{"k":39,"t":-2.5,"r":62},{"k":39,"t":-2.25,"r":61},{"k":39,"t":-2,"r":70},{"k":39,"t":-1.75,"r":84},{"k":39,"t":-1.5,"r":96},{"k":39,"t":-1.25,"r":103},{"k":39,"t":-1,"r":105},{"k":39,"t":-0.75,"r":101},{"k":39,"t":-0.5,"r":91},{"k":39,"t":-0.25,"r":76},{"k":39,"t":0,"r":63},
{"k":40,"t":-3,"r":90},{"k":40,"t":-2.75,"r":80},{"k":40,"t":-2.5,"r":68},{"k":40,"t":-2.25,"r":61},{"k":40,"t":-2,"r":67},{"k":40,"t":-1.75,"r":84},{"k":40,"t":-1.5,"r":100},{"k":40,"t":-1.25,"r":112},{"k":40,"t":-1,"r":115.5},{"k":40,"t":-0.75,"r":110},{"k":40,"t":-0.5,"r":97},{"k":40,"t":-0.25,"r":79},{"k":40,"t":0,"r":64},
{"k":41,"t":-3,"r":72},{"k":41,"t":-2.75,"r":63},{"k":41,"t":-2.5,"r":60},{"k":41,"t":-2.25,"r":67},{"k":41,"t":-2,"r":72},{"k":41,"t":-1.75,"r":66},{"k":41,"t":-1.5,"r":62},{"k":41,"t":-1.25,"r":74},{"k":41,"t":-1,"r":89},{"k":41,"t":-0.75,"r":94},{"k":41,"t":-0.5,"r":87},{"k":41,"t":-0.25,"r":73},{"k":41,"t":0,"r":61},
{"k":42,"t":-3,"r":70},{"k":42,"t":-2.75,"r":62},{"k":42,"t":-2.5,"r":64},{"k":42,"t":-2.25,"r":83},{"k":42,"t":-2,"r":103},{"k":42,"t":-1.75,"r":119},{"k":42,"t":-1.5,"r":130},{"k":42,"t":-1.25,"r":134.5},{"k":42,"t":-1,"r":130},{"k":42,"t":-0.75,"r":119},{"k":42,"t":-0.5,"r":102},{"k":42,"t":-0.25,"r":80},{"k":42,"t":0,"r":60},
{"k":43,"t":-3,"r":66},{"k":43,"t":-2.75,"r":62},{"k":43,"t":-2.5,"r":72},{"k":43,"t":-2.25,"r":88},{"k":43,"t":-2,"r":104},{"k":43,"t":-1.75,"r":115},{"k":43,"t":-1.5,"r":123},{"k":43,"t":-1.25,"r":126},{"k":43,"t":-1,"r":123},{"k":43,"t":-0.75,"r":114},{"k":43,"t":-0.5,"r":99},{"k":43,"t":-0.25,"r":79},{"k":43,"t":0,"r":62},
{"k":44,"t":-3,"r":101.5},{"k":44,"t":-2.75,"r":94},{"k":44,"t":-2.5,"r":86.5},{"k":44,"t":-2.25,"r":79},{"k":44,"t":-2,"r":71.5},{"k":44,"t":-1.75,"r":64.5},{"k":44,"t":-1.5,"r":58},{"k":44,"t":-1.25,"r":54.5},{"k":44,"t":-1,"r":57},{"k":44,"t":-0.75,"r":62},{"k":44,"t":-0.5,"r":63},{"k":44,"t":-0.25,"r":60},{"k":44,"t":0,"r":57},
{"k":45,"t":-3,"r":97},{"k":45,"t":-2.75,"r":90.5},{"k":45,"t":-2.5,"r":84},{"k":45,"t":-2.25,"r":77},{"k":45,"t":-2,"r":70},{"k":45,"t":-1.75,"r":63},{"k":45,"t":-1.5,"r":57.5},{"k":45,"t":-1.25,"r":56},{"k":45,"t":-1,"r":62.5},{"k":45,"t":-0.75,"r":69},{"k":45,"t":-0.5,"r":69},{"k":45,"t":-0.25,"r":64.5},{"k":45,"t":0,"r":59},
{"k":46,"t":-3,"r":102},{"k":46,"t":-2.75,"r":94.5},{"k":46,"t":-2.5,"r":87},{"k":46,"t":-2.25,"r":79.5},{"k":46,"t":-2,"r":72},{"k":46,"t":-1.75,"r":65},{"k":46,"t":-1.5,"r":60},{"k":46,"t":-1.25,"r":60},{"k":46,"t":-1,"r":66},{"k":46,"t":-0.75,"r":73},{"k":46,"t":-0.5,"r":73},{"k":46,"t":-0.25,"r":67},{"k":46,"t":0,"r":61},
{"k":47,"t":-3,"r":94},{"k":47,"t":-2.75,"r":88},{"k":47,"t":-2.5,"r":82},{"k":47,"t":-2.25,"r":76},{"k":47,"t":-2,"r":69.5},{"k":47,"t":-1.75,"r":63.5},{"k":47,"t":-1.5,"r":59},{"k":47,"t":-1.25,"r":58.5},{"k":47,"t":-1,"r":65},{"k":47,"t":-0.75,"r":76.5},{"k":47,"t":-0.5,"r":77},{"k":47,"t":-0.25,"r":69},{"k":47,"t":0,"r":60},
{"k":48,"t":-3,"r":88},{"k":48,"t":-2.75,"r":90},{"k":48,"t":-2.5,"r":84},{"k":48,"t":-2.25,"r":74},{"k":48,"t":-2,"r":64},{"k":48,"t":-1.75,"r":62},{"k":48,"t":-1.5,"r":67},{"k":48,"t":-1.25,"r":80},{"k":48,"t":-1,"r":92},{"k":48,"t":-0.75,"r":93.5},{"k":48,"t":-0.5,"r":85},{"k":48,"t":-0.25,"r":72},{"k":48,"t":0,"r":60},
{"k":49,"t":-3,"r":60},{"k":49,"t":-2.75,"r":66},{"k":49,"t":-2.5,"r":74},{"k":49,"t":-2.25,"r":78},{"k":49,"t":-2,"r":74},{"k":49,"t":-1.75,"r":66},{"k":49,"t":-1.5,"r":60},{"k":49,"t":-1.25,"r":66},{"k":49,"t":-1,"r":82},{"k":49,"t":-0.75,"r":89},{"k":49,"t":-0.5,"r":83},{"k":49,"t":-0.25,"r":71},{"k":49,"t":0,"r":61},
{"k":50,"t":-3,"r":78},{"k":50,"t":-2.75,"r":68},{"k":50,"t":-2.5,"r":62},{"k":50,"t":-2.25,"r":68},{"k":50,"t":-2,"r":80},{"k":50,"t":-1.75,"r":94},{"k":50,"t":-1.5,"r":108},{"k":50,"t":-1.25,"r":117},{"k":50,"t":-1,"r":119},{"k":50,"t":-0.75,"r":113},{"k":50,"t":-0.5,"r":99},{"k":50,"t":-0.25,"r":80},{"k":50,"t":0,"r":62},
{"k":51,"t":-3,"r":99},{"k":51,"t":-2.75,"r":88},{"k":51,"t":-2.5,"r":74},{"k":51,"t":-2.25,"r":63},{"k":51,"t":-2,"r":60},{"k":51,"t":-1.75,"r":70},{"k":51,"t":-1.5,"r":86},{"k":51,"t":-1.25,"r":99},{"k":51,"t":-1,"r":106},{"k":51,"t":-0.75,"r":104},{"k":51,"t":-0.5,"r":94},{"k":51,"t":-0.25,"r":78},{"k":51,"t":0,"r":61},
{"k":52,"t":-3,"r":64},{"k":52,"t":-2.75,"r":70},{"k":52,"t":-2.5,"r":70},{"k":52,"t":-2.25,"r":64},{"k":52,"t":-2,"r":60},{"k":52,"t":-1.75,"r":66},{"k":52,"t":-1.5,"r":78},{"k":52,"t":-1.25,"r":92},{"k":52,"t":-1,"r":100},{"k":52,"t":-0.75,"r":98},{"k":52,"t":-0.5,"r":89},{"k":52,"t":-0.25,"r":75},{"k":52,"t":0,"r":61},
{"k":53,"t":-3,"r":75},{"k":53,"t":-2.75,"r":66},{"k":53,"t":-2.5,"r":61},{"k":53,"t":-2.25,"r":66},{"k":53,"t":-2,"r":80},{"k":53,"t":-1.75,"r":96},{"k":53,"t":-1.5,"r":109},{"k":53,"t":-1.25,"r":117},{"k":53,"t":-1,"r":118},{"k":53,"t":-0.75,"r":111},{"k":53,"t":-0.5,"r":98},{"k":53,"t":-0.25,"r":79},{"k":53,"t":0,"r":61},
{"k":54,"t":-3,"r":85},{"k":54,"t":-2.75,"r":74},{"k":54,"t":-2.5,"r":64},{"k":54,"t":-2.25,"r":60},{"k":54,"t":-2,"r":68},{"k":54,"t":-1.75,"r":84},{"k":54,"t":-1.5,"r":98},{"k":54,"t":-1.25,"r":107},{"k":54,"t":-1,"r":110},{"k":54,"t":-0.75,"r":106},{"k":54,"t":-0.5,"r":95},{"k":54,"t":-0.25,"r":78},{"k":54,"t":0,"r":62},
{"k":55,"t":-3,"r":93},{"k":55,"t":-2.75,"r":90},{"k":55,"t":-2.5,"r":82},{"k":55,"t":-2.25,"r":71},{"k":55,"t":-2,"r":62},{"k":55,"t":-1.75,"r":65},{"k":55,"t":-1.5,"r":78},{"k":55,"t":-1.25,"r":92},{"k":55,"t":-1,"r":100.5},{"k":55,"t":-0.75,"r":99},{"k":55,"t":-0.5,"r":90},{"k":55,"t":-0.25,"r":76},{"k":55,"t":0,"r":61},
{"k":56,"t":-3,"r":66},{"k":56,"t":-2.75,"r":72},{"k":56,"t":-2.5,"r":78},{"k":56,"t":-2.25,"r":76},{"k":56,"t":-2,"r":68},{"k":56,"t":-1.75,"r":61},{"k":56,"t":-1.5,"r":66},{"k":56,"t":-1.25,"r":82},{"k":56,"t":-1,"r":94},{"k":56,"t":-0.75,"r":96},{"k":56,"t":-0.5,"r":88},{"k":56,"t":-0.25,"r":74},{"k":56,"t":0,"r":60},
{"k":57,"t":-3,"r":97},{"k":57,"t":-2.75,"r":92},{"k":57,"t":-2.5,"r":84},{"k":57,"t":-2.25,"r":75},{"k":57,"t":-2,"r":66},{"k":57,"t":-1.75,"r":60},{"k":57,"t":-1.5,"r":62},{"k":57,"t":-1.25,"r":72},{"k":57,"t":-1,"r":84},{"k":57,"t":-0.75,"r":88},{"k":57,"t":-0.5,"r":82},{"k":57,"t":-0.25,"r":70},{"k":57,"t":0,"r":62},
{"k":58,"t":-3,"r":62},{"k":58,"t":-2.75,"r":60},{"k":58,"t":-2.5,"r":66},{"k":58,"t":-2.25,"r":82},{"k":58,"t":-2,"r":99},{"k":58,"t":-1.75,"r":111},{"k":58,"t":-1.5,"r":120},{"k":58,"t":-1.25,"r":124},{"k":58,"t":-1,"r":122},{"k":58,"t":-0.75,"r":113},{"k":58,"t":-0.5,"r":99},{"k":58,"t":-0.25,"r":80},{"k":58,"t":0,"r":63}
]
},
"hconcat": [
{
"title": {"text": "LMC"},
"width": 399, "height": 376,
"data": {"name": "L"},
"mark": {"type": "line", "color": "#1f77b4", "opacity": 0.32, "strokeWidth": 2.3, "interpolate": "catmull-rom", "clip": true},
"encoding": {
"x": {"field": "t", "type": "quantitative", "scale": {"domain": [-3.15, 0.15], "nice": false, "zero": false}, "axis": {"values": [-3, -2.5, -2, -1.5, -1, -0.5, 0], "format": ".1f", "title": "t (Gyr)"}},
"y": {"field": "r", "type": "quantitative", "scale": {"domain": [34.3, 282.3], "nice": false, "zero": false}, "axis": {"values": [50, 100, 150, 200, 250], "title": "r (kpc)"}},
"detail": {"field": "k", "type": "nominal"}
}
},
{
"title": {"text": "SMC"},
"width": 399, "height": 376,
"data": {"name": "S"},
"mark": {"type": "line", "color": "#ff0000", "opacity": 0.28, "strokeWidth": 2.3, "interpolate": "catmull-rom", "clip": true},
"encoding": {
"x": {"field": "t", "type": "quantitative", "scale": {"domain": [-3.15, 0.15], "nice": false, "zero": false}, "axis": {"values": [-3, -2.5, -2, -1.5, -1, -0.5, 0], "format": ".1f", "title": "t (Gyr)"}},
"y": {"field": "r", "type": "quantitative", "scale": {"domain": [44.5, 218.9], "nice": false, "zero": false}, "axis": {"values": [60, 80, 100, 120, 140, 160, 180, 200], "title": "r (kpc)"}},
"detail": {"field": "k", "type": "nominal"}
}
}
]
}
